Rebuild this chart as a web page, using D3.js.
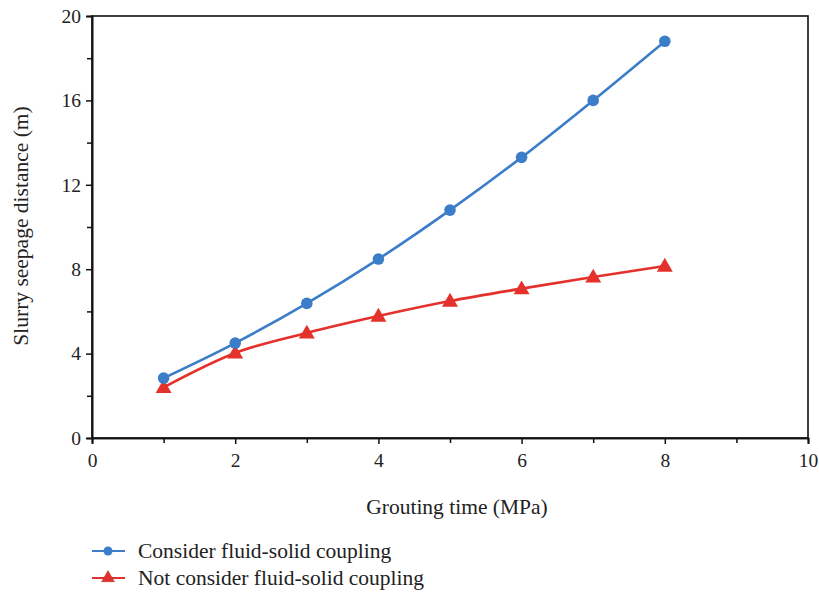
<!DOCTYPE html>
<html><head><meta charset="utf-8">
<script src="https://cdn.jsdelivr.net/npm/d3@7"></script>
<style>body{margin:0;background:#fff}svg{display:block}text{font-family:"Liberation Serif","DejaVu Serif",serif;fill:#222}</style>
</head><body>
<svg id="c" width="819" height="593"></svg>
<script>
const xValues = [1,2,3,4,5,6,7,8];
const coupled = [2.84,4.5,6.38,8.48,10.8,13.3,16.0,18.8];
const uncoupled = [2.4,4.03,4.98,5.78,6.49,7.08,7.63,8.15];
const seriesNames = ["Consider fluid-solid coupling","Not consider fluid-solid coupling"];
const xTicks = [0,2,4,6,8,10];
const yTicks = [0,4,8,12,16,20];
const xMinor = [1,3,5,7,9];
const yMinor = [2,6,10,14,18];

const svg = d3.select("#c");
const L=92,R=808,T=16,B=438;
const x = d3.scaleLinear().domain([0,10]).range([L,R]);
const y = d3.scaleLinear().domain([0,20]).range([B,T]);
const blue="#3b7dc8", red="#e5312b";

svg.append("rect").attr("x",L).attr("y",T).attr("width",R-L).attr("height",B-T).attr("fill","none").attr("stroke","#111").attr("stroke-width",1.6);

const xa = svg.append("g").attr("transform",`translate(0,${B})`)
  .call(d3.axisBottom(x).tickValues(xTicks).tickSize(6).tickPadding(9).tickFormat(d3.format("d")));
const xm = svg.append("g").attr("transform",`translate(0,${B})`)
  .call(d3.axisBottom(x).tickValues(xMinor).tickSize(5).tickFormat(""));
const ya = svg.append("g").attr("transform",`translate(${L},0)`)
  .call(d3.axisLeft(y).tickValues(yTicks).tickSize(6).tickPadding(5).tickFormat(d3.format("d")));
const ym = svg.append("g").attr("transform",`translate(${L},0)`)
  .call(d3.axisLeft(y).tickValues(yMinor).tickSize(5).tickFormat(""));
[xa,xm,ya,ym].forEach(g=>{g.select(".domain").attr("stroke","#111").attr("stroke-width",1.6);g.selectAll("line").attr("stroke","#111").attr("stroke-width",1.5);g.selectAll("text").attr("font-size",19.5).attr("fill","#222").attr("font-family","Liberation Serif, serif");});

svg.append("text").attr("x",457).attr("y",514).attr("text-anchor","middle").attr("font-size",21.5).text("Grouting time (MPa)");
svg.append("text").attr("transform","translate(28,226) rotate(-90)").attr("text-anchor","middle").attr("font-size",21.5).text("Slurry seepage distance (m)");

const line = d3.line().x((d,i)=>x(xValues[i])).y(d=>y(d)).curve(d3.curveMonotoneX);
svg.append("path").datum(uncoupled).attr("d",line).attr("fill","none").attr("stroke",red).attr("stroke-width",2.6);
svg.append("path").datum(coupled).attr("d",line).attr("fill","none").attr("stroke",blue).attr("stroke-width",2.6);

const tri = d3.symbol().type(d3.symbolTriangle).size(110);
svg.selectAll(".tri").data(uncoupled).join("path").attr("transform",(d,i)=>`translate(${x(xValues[i])},${y(d)+1})`).attr("d",tri).attr("fill",red);
svg.selectAll(".dot").data(coupled).join("circle").attr("cx",(d,i)=>x(xValues[i])).attr("cy",d=>y(d)).attr("r",5.8).attr("fill",blue);

const lg=[{n:seriesNames[0],c:blue,m:"circle",y:551},{n:seriesNames[1],c:red,m:"tri",y:578}];
lg.forEach(d=>{
  svg.append("line").attr("x1",92).attr("x2",125).attr("y1",d.y).attr("y2",d.y).attr("stroke",d.c).attr("stroke-width",1.8);
  if(d.m==="circle") svg.append("circle").attr("cx",108).attr("cy",d.y).attr("r",4.5).attr("fill",blue);
  else svg.append("path").attr("transform",`translate(108,${d.y})`).attr("d",d3.symbol().type(d3.symbolTriangle).size(70)).attr("fill",red).attr("stroke","#b03030").attr("stroke-width",0.6);
  svg.append("text").attr("x",138).attr("y",d.y+7).attr("font-size",21.5).text(d.n);
});
</script></body></html>
